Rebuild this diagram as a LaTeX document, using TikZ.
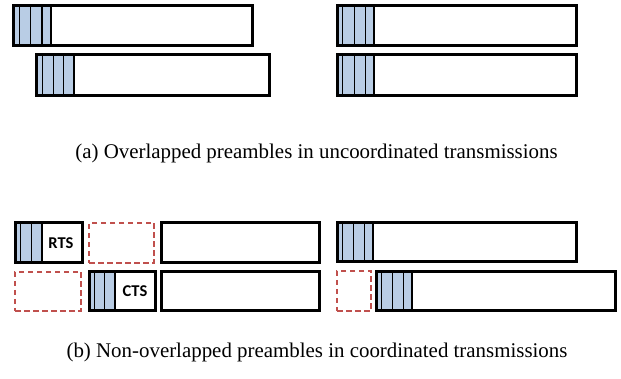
\documentclass[tikz,border=0pt]{standalone}
\usepackage{fontspec}
\setmainfont{Liberation Serif}
\newfontfamily\lblfont{Carlito}
\usetikzlibrary{fit}
\definecolor{preblue}{HTML}{B9CDE5}
\definecolor{dred}{HTML}{C0504D}
\newcommand\pkt[6]{% name, x1, y1, x2, y2, {stripe lines; last = end of preamble}
  \foreach \l [remember=\l as \prev (initially #2)] in {#6}{
    \fill[preblue] (\prev,#3) rectangle (\l,#5);
    \draw[stripe] (\l,#3) -- (\l,#5);
  }
  \node[box, fit={(#2,#3) (#4,#5)}] (#1) {};
}
\newcommand\plainpkt[5]{\node[box, fit={(#2,#3) (#4,#5)}] (#1) {};}
\begin{document}
\begin{tikzpicture}[x=1pt,y=-1pt,
  box/.style={draw=black, line width=3pt, inner sep=0pt},
  stripe/.style={draw=black, line width=2.8pt},
  dbox/.style={draw=dred, line width=2.6pt, dash pattern=on 5.5pt off 3.5pt, inner sep=0pt},
  lbl/.style={font=\lblfont\bfseries\fontsize{16.5}{18}\selectfont},
  captxt/.style={font=\fontsize{20.9}{24}\selectfont}]
\useasboundingbox (0,0) rectangle (621,379);
% (a)
\pkt{a1}{13}{6}{252}{46}{20,31,42.5,51}
\pkt{a2}{36}{55}{269}{96}{43,54,64,74}
\pkt{a3}{337}{6}{576}{46}{343,355,366,374}
\pkt{a4}{337}{55}{576}{96}{343,355,366,374}
\node[captxt] (capa) at (316.5,153) {(a) Overlapped preambles in uncoordinated transmissions};
% (b)
\pkt{rts}{15}{223}{82}{263}{21,32,42}
\node[lbl] (rtst) at (61,243.5) {RTS};
\node[dbox, fit={(89,223) (154,263)}] (d1) {};
\plainpkt{b1}{161}{223}{319}{263}
\node[dbox, fit={(15,272) (81,311)}] (d2) {};
\pkt{cts}{89}{272}{155}{311}{95,105,115}
\node[lbl] (ctst) at (135,291.5) {CTS};
\plainpkt{b2}{161}{272}{319}{311}
\pkt{b3}{337}{223}{576}{262}{343,354,365,373}
\node[dbox, fit={(337,271) (371,311)}] (d3) {};
\pkt{b4}{376}{272}{615}{311}{382,393,404,412}
\node[captxt] (capb) at (317,352) {(b) Non-overlapped preambles in coordinated transmissions};
\end{tikzpicture}
\end{document}
